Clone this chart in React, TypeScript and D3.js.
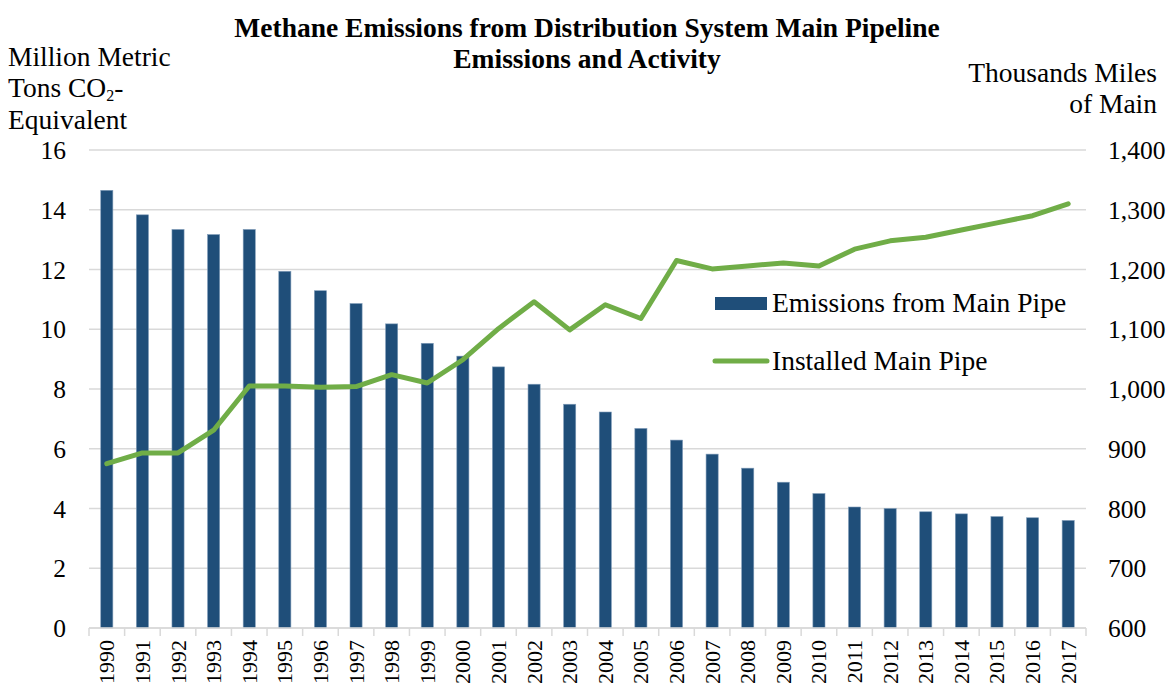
import React from "react";
import * as d3 from "d3";

const years = [
  "1990","1991","1992","1993","1994","1995","1996","1997","1998","1999",
  "2000","2001","2002","2003","2004","2005","2006","2007","2008","2009",
  "2010","2011","2012","2013","2014","2015","2016","2017",
];
const emissions = [
  14.65, 13.83, 13.34, 13.17, 13.34, 11.94, 11.29, 10.86, 10.18, 9.53,
  9.1, 8.74, 8.16, 7.49, 7.23, 6.68, 6.29, 5.82, 5.35, 4.88,
  4.5, 4.05, 4.0, 3.89, 3.82, 3.73, 3.69, 3.6,
];
const mainMiles = [
  875, 893, 893, 931, 1005, 1005, 1003, 1004, 1024, 1010,
  1049, 1101, 1146, 1099, 1141, 1118, 1215, 1201, 1206, 1211,
  1206, 1234, 1248, 1254, 1266, 1278, 1290, 1310,
];
const leftTicks = [0, 2, 4, 6, 8, 10, 12, 14, 16];
const rightTicks = [600, 700, 800, 900, 1000, 1100, 1200, 1300, 1400];

const FONT = "'Liberation Serif', 'Times New Roman', serif";
const BAR = "#1F4E79";
const LINE = "#70AD47";
const GRID = "#D9D9D9";

export default function App() {
  const W = 1176, H = 688;
  const left = 89, right = 1086, top = 150, bottom = 628;
  const x = d3.scaleBand<string>().domain(years).range([left, right]);
  const yL = d3.scaleLinear().domain([0, 16]).range([bottom, top]);
  const yR = d3.scaleLinear().domain([600, 1400]).range([bottom, top]);
  const bw = x.bandwidth() * 0.34;
  const line = d3
    .line<number>()
    .x((_, i) => (x(years[i]) as number) + x.bandwidth() / 2)
    .y((d) => yR(d));
  const fmt = d3.format(",");

  return (
    <svg width={W} height={H} style={{ position: "absolute", left: 0, top: 0, background: "#fff" }} fontFamily={FONT}>
      {/* title */}
      <text x={587} y={37} textAnchor="middle" fontWeight="bold" fontSize={27.5}>
        Methane Emissions from Distribution System Main Pipeline
      </text>
      <text x={587} y={68} textAnchor="middle" fontWeight="bold" fontSize={27.5}>
        Emissions and Activity
      </text>
      {/* left axis title */}
      <text x={8} y={65.5} fontSize={27.5}>Million Metric</text>
      <text x={8} y={97} fontSize={27.5}>
        Tons CO<tspan fontSize={16} dy={4}>2</tspan>
        <tspan dy={-4}>-</tspan>
      </text>
      <text x={8} y={128.5} fontSize={27.5}>Equivalent</text>
      {/* right axis title */}
      <text x={1157} y={82} textAnchor="end" fontSize={27.5}>Thousands Miles</text>
      <text x={1157} y={113} textAnchor="end" fontSize={27.5}>of Main</text>

      {/* gridlines */}
      {leftTicks.map((t) => (
        <line key={t} x1={left} x2={right} y1={yL(t)} y2={yL(t)} stroke={GRID} strokeWidth={1.5} />
      ))}
      {/* left tick labels */}
      {leftTicks.map((t) => (
        <text key={t} x={66} y={yL(t) + 9} textAnchor="end" fontSize={25.5}>{t}</text>
      ))}
      {/* right tick labels */}
      {rightTicks.map((t) => (
        <text key={t} x={1108} y={yR(t) + 9} textAnchor="start" fontSize={25.5}>{fmt(t)}</text>
      ))}

      {/* bars */}
      {emissions.map((v, i) => {
        const cx = (x(years[i]) as number) + x.bandwidth() / 2;
        return (
          <rect key={i} x={cx - bw / 2} y={yL(v)} width={bw} height={yL(0) - yL(v)}
            fill={BAR} stroke="#7F9BB8" strokeWidth={0.6} />
        );
      })}

      {/* x axis */}
      <line x1={left} x2={right} y1={bottom} y2={bottom} stroke={GRID} strokeWidth={1.5} />
      {years.map((yv, i) => (
        <line key={i} x1={x(yv) as number} x2={x(yv) as number} y1={bottom} y2={bottom + 8} stroke={GRID} strokeWidth={1.5} />
      ))}
      <line x1={right} x2={right} y1={bottom} y2={bottom + 8} stroke={GRID} strokeWidth={1.5} />
      {years.map((yv) => {
        const cx = (x(yv) as number) + x.bandwidth() / 2;
        return (
          <text key={yv} transform={`translate(${cx + 7.5},${bottom + 12}) rotate(-90)`} textAnchor="end" fontSize={22}>
            {yv}
          </text>
        );
      })}

      {/* line */}
      <path d={line(mainMiles) || ""} fill="none" stroke={LINE} strokeWidth={5} strokeLinejoin="round" strokeLinecap="round" />

      {/* legend */}
      <rect x={715} y={297} width={52} height={13} fill={BAR} />
      <text x={772} y={312} fontSize={27.5}>Emissions from Main Pipe</text>
      <line x1={715} x2={767} y1={361} y2={361} stroke={LINE} strokeWidth={5} strokeLinecap="round" />
      <text x={772} y={370} fontSize={27.5}>Installed Main Pipe</text>
    </svg>
  );
}
